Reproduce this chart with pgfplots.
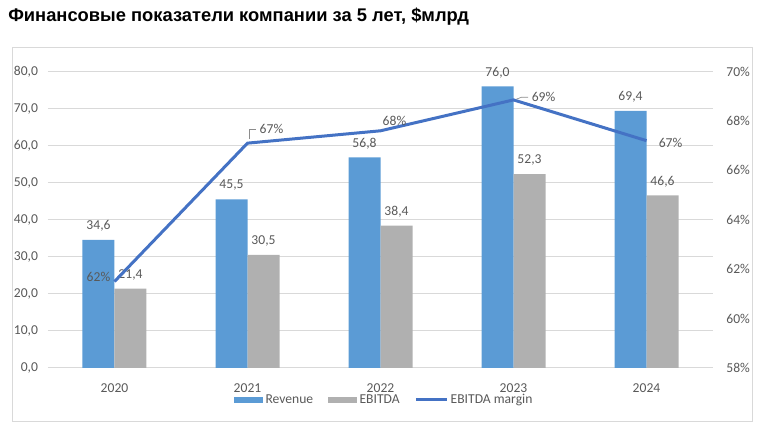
\documentclass[border=0pt]{standalone}
\usepackage{pgfplots}
\pgfplotsset{compat=1.18}
\usepackage{pgfplotstable}
\usepackage{fontspec}
\setmainfont{Carlito}
\newfontfamily\titlefont{Liberation Sans}
\definecolor{rev}{HTML}{5B9BD5}
\definecolor{ebit}{HTML}{B0B0B0}
\definecolor{mar}{HTML}{4472C4}
\definecolor{txt}{HTML}{595959}
\definecolor{gridc}{HTML}{D9D9D9}

\pgfplotstableread{
x rev ebitda
0 34.6 21.4
1 45.5 30.5
2 56.8 38.4
3 76.0 52.3
4 69.4 46.6
}\bars
\pgfplotstableread{
x m lab dx dy
0 61.5 62 -12 3.4
1 67.1 67 18 10.5
2 67.6 68 10.5 7.5
3 68.85 69 22.5 2.25
4 67.2 67 18 -1.5
}\margin

\begin{document}
\begin{tikzpicture}
\path[use as bounding box] (0,0) rectangle (570.75pt,323.25pt);
\draw[gridc, line width=0.75pt] (9pt,6.75pt) rectangle (564pt,287.25pt);
\node[anchor=west, inner sep=0pt] at (6pt,310.9pt) {\titlefont\bfseries\fontsize{13.75}{16}\selectfont Финансовые показатели компании за 5 лет, \$млрд};

\begin{axis}[
  at={(36pt,47.25pt)}, anchor=south west, scale only axis,
  width=498.75pt, height=222.375pt,
  xmin=-0.5, xmax=4.5, ymin=0, ymax=80,
  xtick={0,1,2,3,4}, xticklabels={2020,2021,2022,2023,2024},
  ytick={0,10,...,80},
  /pgf/number format/fixed, /pgf/number format/fixed zerofill,
  /pgf/number format/precision=1, /pgf/number format/use comma,
  /pgf/number format/assume math mode=true,
  axis x line*=bottom, axis y line*=left,
  y axis line style={draw=none}, x axis line style={draw=gridc, line width=0.75pt},
  major tick length=0pt,
  ymajorgrids, grid style={gridc, line width=0.75pt},
  tick label style={txt, font=\fontsize{10.2}{12}\selectfont},
  xticklabel style={yshift=-8.5pt},
  yticklabel style={xshift=-4pt},
  legend style={draw=none, fill=none, legend columns=3, at={(0.5,0)}, anchor=center, yshift=-24pt, xshift=3pt,
    font=\fontsize{10.2}{12}\selectfont, text=txt, inner sep=0pt,
    /tikz/every odd column/.append style={column sep=0pt},
    /tikz/every even column/.append style={column sep=9pt}},
  legend cell align=left,
]
\addplot[fill=rev, draw=none, ybar, bar width=24pt, bar shift=-12pt,
  nodes near coords,
  every node near coord/.append style={txt, anchor=center, xshift=-12pt, yshift=10.5pt, font=\fontsize{10.2}{12}\selectfont},
  legend image code/.code={\fill[rev] (0pt,-2.6pt) rectangle (21.75pt,2.6pt);}]
  table[x=x, y=rev] {\bars};
\addlegendentry{Revenue}
\addplot[fill=ebit, draw=none, ybar, bar width=24pt, bar shift=12pt,
  nodes near coords,
  every node near coord/.append style={txt, anchor=center, xshift=12pt, yshift=10.5pt, font=\fontsize{10.2}{12}\selectfont},
  legend image code/.code={\fill[ebit] (0pt,-2.6pt) rectangle (21.75pt,2.6pt);}]
  table[x=x, y=ebitda] {\bars};
\addlegendentry{EBITDA}
\addlegendimage{legend image code/.code={\draw[mar, line width=2.25pt] (0pt,0pt) -- (23pt,0pt);}}
\addlegendentry{EBITDA margin}
\end{axis}

\begin{axis}[
  at={(36pt,47.25pt)}, anchor=south west, scale only axis,
  width=498.75pt, height=222.375pt,
  xmin=-0.5, xmax=4.5, ymin=58, ymax=70,
  xtick=\empty, ytick={58,60,...,70},
  yticklabel={\pgfmathprintnumber{\tick}\%},
  /pgf/number format/assume math mode=true,
  axis y line*=right, axis x line=none,
  y axis line style={draw=none},
  major tick length=0pt,
  tick label style={txt, font=\fontsize{10.2}{12}\selectfont},
  yticklabel style={xshift=6.5pt},
]
\addplot[mar, line width=2.25pt, mark=none,
  point meta=explicit symbolic,
  visualization depends on={\thisrow{dx} \as \dx},
  visualization depends on={\thisrow{dy} \as \dy},
  nodes near coords={\pgfplotspointmeta\%},
  nodes near coords style={txt, anchor=center, xshift=\dx pt, yshift=\dy pt, font=\fontsize{10.2}{12}\selectfont}]
  table[x=x, y=m, meta=lab] {\margin};
\draw[black!45, line width=0.5pt] (axis cs:1,67.1) ++(1.5pt,3pt) |- ++(4.5pt,7.5pt);
\draw[black!45, line width=0.5pt] (axis cs:3,68.85) ++(2pt,0.5pt) -- ++(4pt,1.5pt) -- ++(5pt,0pt);
\end{axis}
\end{tikzpicture}
\end{document}
